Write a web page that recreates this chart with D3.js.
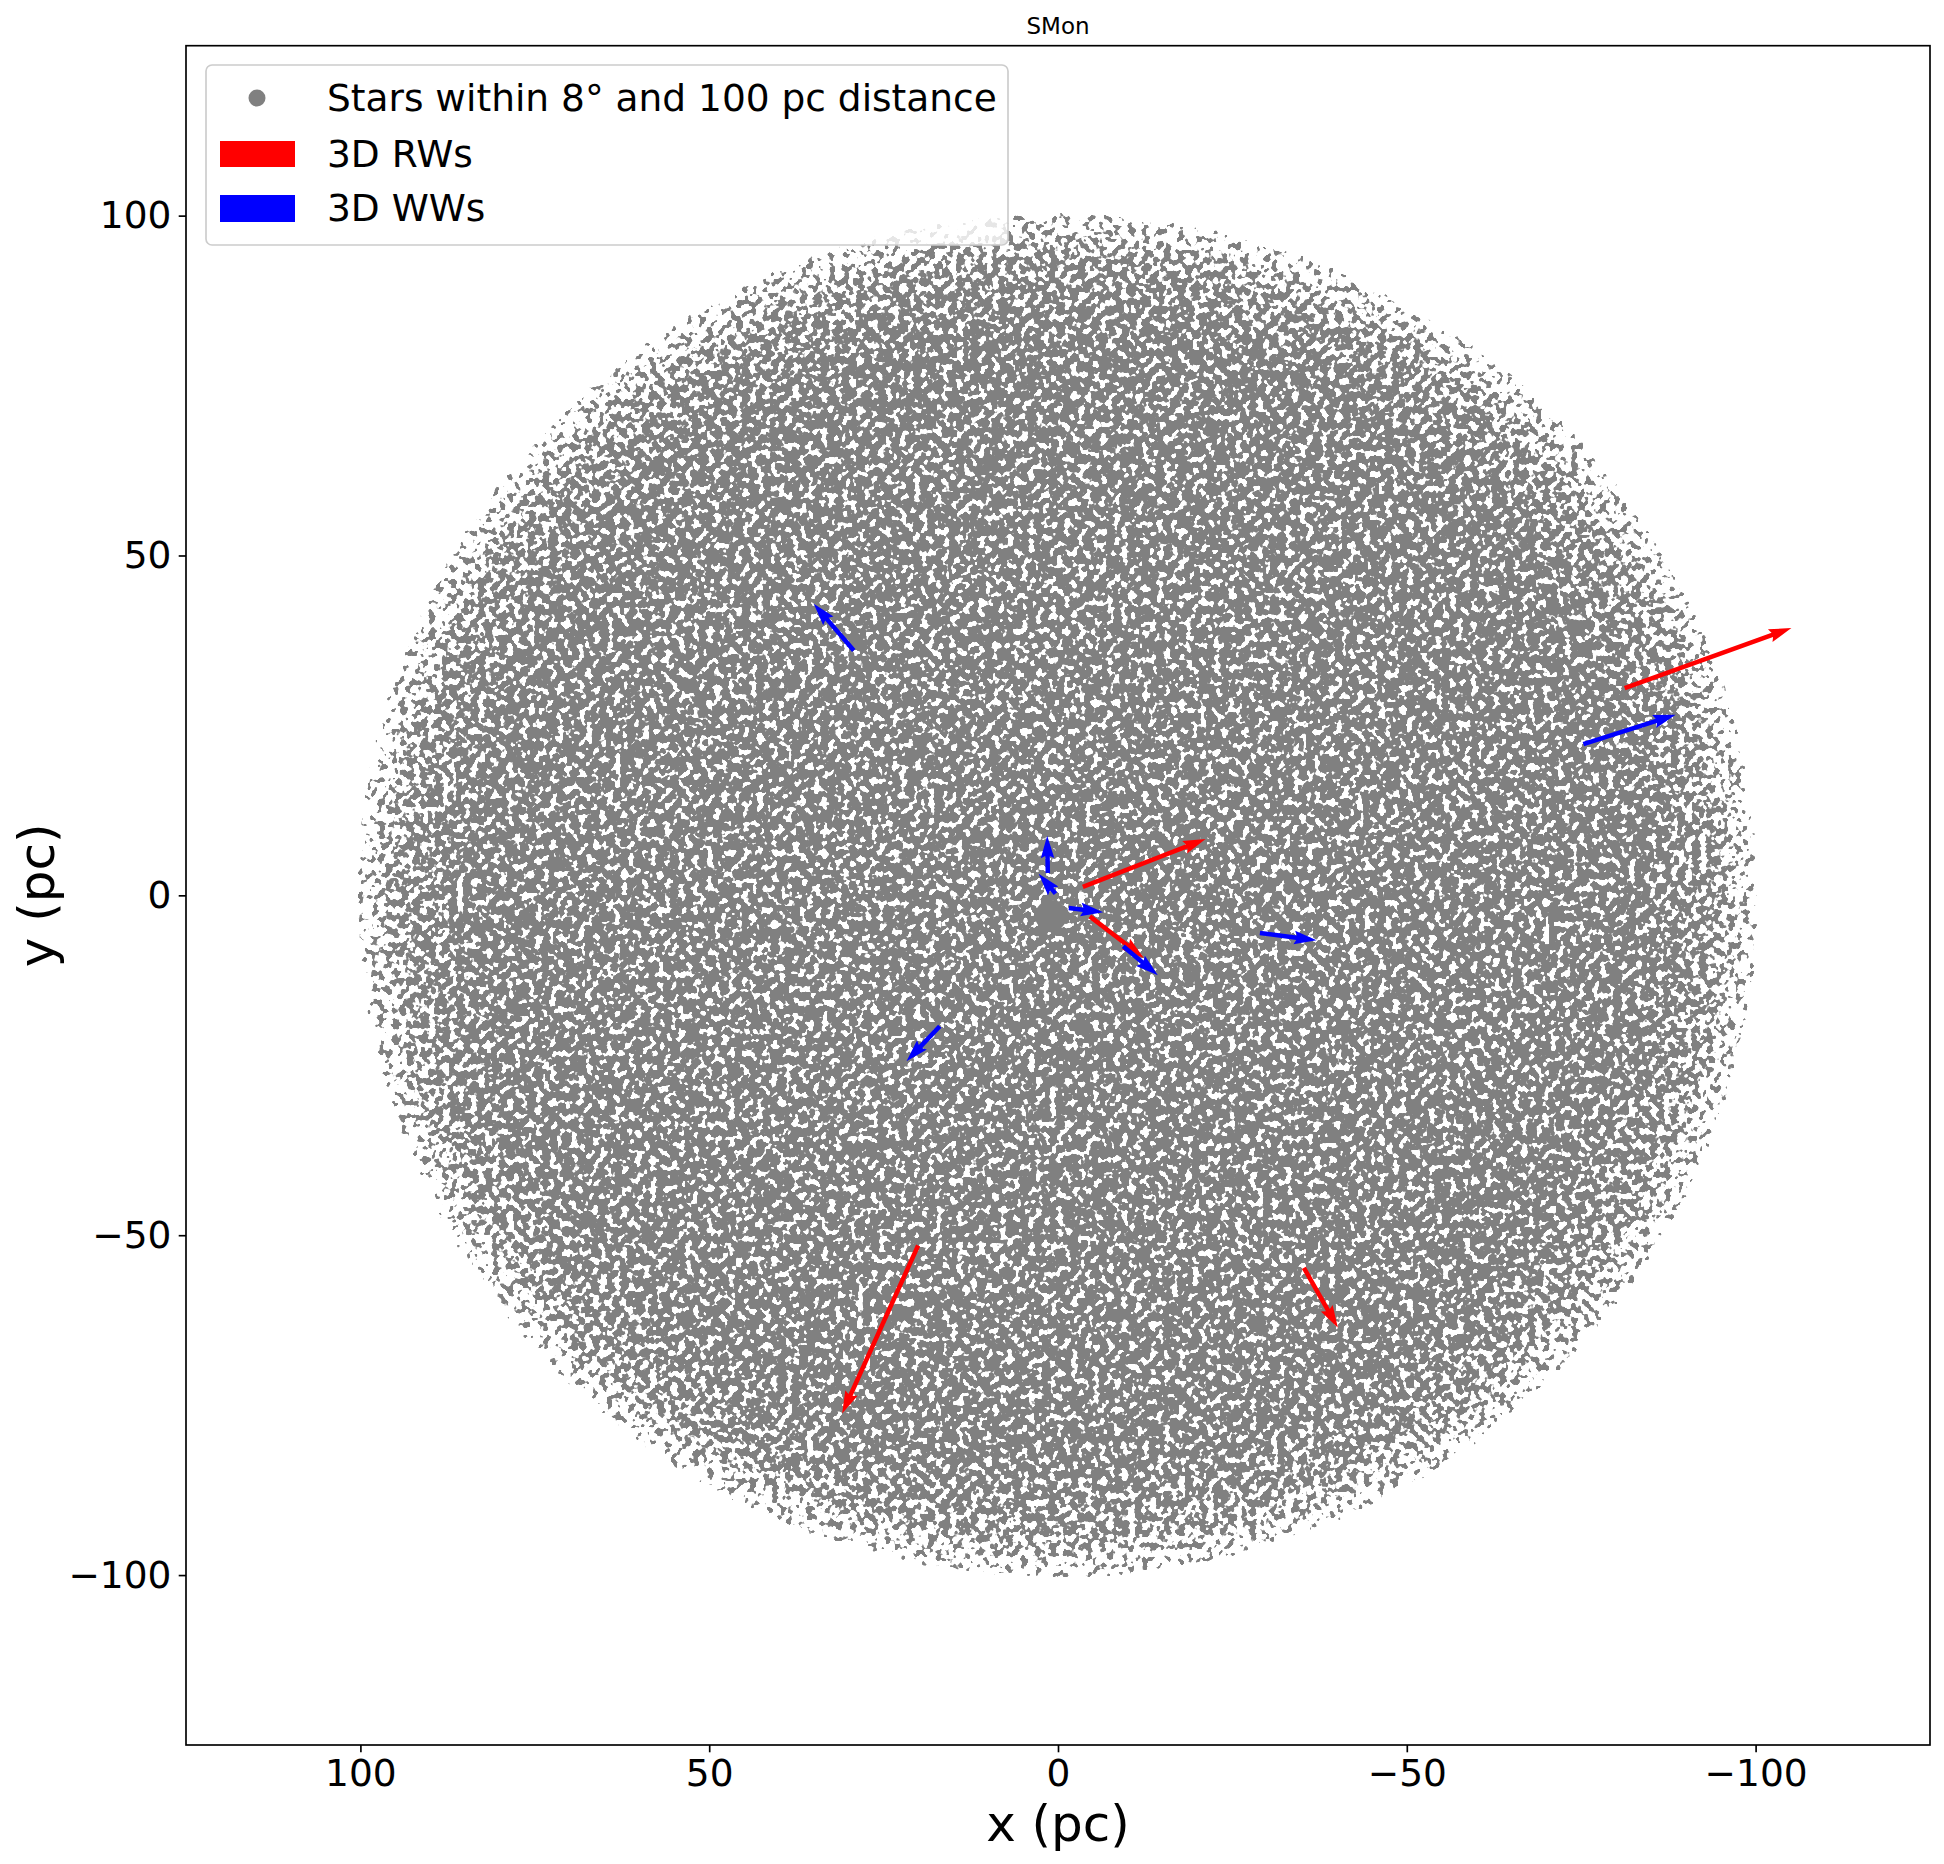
<!DOCTYPE html>
<html lang="en">
<head>
<meta charset="UTF-8" />
<title>SMon</title>
<script src="https://d3js.org/d3.v7.min.js"></script>
<style>
  body { margin: 0; background: #fff; }
  svg text { font-family: "DejaVu Sans", sans-serif; fill: #000; }
</style>
</head>
<body>
<svg id="chart" width="1944" height="1864"></svg>
<script>
// == DATA ==
const chartTitle = "SMon";
const xTicks = [100, 50, 0, -50, -100];
const yTicks = [100, 50, 0, -50, -100];
const xDomain = [125, -125];
const yDomain = [-125, 125];

// star sample: everything within 100 pc, plus the dense clump near the centre
const sampleRadius = 100;
const coreCenter = [1, -3];
const coreRadius = 2.3;

// 3D RWs (red): tail position and vector, in pc
const rwX  = [-3.56, -4.56, -81.23, 20.05, -35.24];
const rwY  = [1.24, -3.09, 30.50, -51.51, -54.79];
const rwDX = [-17.60, -7.74, -23.90, 10.89, -4.88];
const rwDY = [7.05, -6.11, 8.82, -24.71, -8.83];

// 3D WWs (blue)
const wwX  = [1.46, 0.36, -1.55, -9.35, -28.94, -75.31, 29.28, 16.95];
const wwY  = [3.29, 0.25, -1.85, -7.50, -5.53, 22.26, 36.03, -19.26];
const wwDX = [0.09, 2.41, -4.93, -4.96, -8.13, -13.23, 5.74, 4.77];
const wwDY = [5.49, 2.94, -0.65, -4.26, -1.09, 4.31, 6.87, -5.15];

const legendLabels = ["Stars within 8° and 100 pc distance", "3D RWs", "3D WWs"];

// == LAYOUT ==
const svg = d3.select("#chart");
const plotL = 186, plotR = 1930, plotT = 45.7, plotB = 1745;
const plotW = plotR - plotL, plotH = plotB - plotT;
const grey = "#808080";

const x = d3.scaleLinear().domain(xDomain).range([plotL, plotR]);
const y = d3.scaleLinear().domain(yDomain).range([plotB, plotT]);
const fmt = d => (d < 0 ? "\u2212" + Math.abs(d) : String(d));

const defs = svg.append("defs");

// star field: grey disc broken up by a speckle texture, thinning towards the rim
const cx = x(0), cy = y(0);
const rx = x(0) - x(sampleRadius), ry = y(-sampleRadius) - y(0);

const falloff = defs.append("radialGradient")
  .attr("id", "falloff")
  .attr("gradientUnits", "userSpaceOnUse")
  .attr("cx", cx).attr("cy", cy).attr("r", rx * 1.01)
  .attr("gradientTransform", `translate(${cx},${cy}) scale(1,${ry / rx}) translate(${-cx},${-cy})`);
[[0, "#fff"], [0.82, "#fff"], [0.93, "rgb(222,222,222)"], [0.99, "rgb(150,150,150)"], [1, "#000"]]
  .forEach(([o, c]) => falloff.append("stop").attr("offset", o).attr("stop-color", c));

const speckle = defs.append("filter")
  .attr("id", "speckle")
  .attr("filterUnits", "userSpaceOnUse")
  .attr("x", plotL).attr("y", plotT).attr("width", plotW).attr("height", plotH)
  .attr("color-interpolation-filters", "sRGB");
speckle.append("feTurbulence")
  .attr("type", "fractalNoise").attr("baseFrequency", 0.14).attr("numOctaves", 2).attr("seed", 9)
  .attr("result", "noise");
speckle.append("feColorMatrix")
  .attr("in", "noise").attr("type", "matrix")
  .attr("values", "1 0 0 0 0  1 0 0 0 0  1 0 0 0 0  0 0 0 0 1")
  .attr("result", "grey");
speckle.append("feComposite")
  .attr("in", "grey").attr("in2", "SourceGraphic").attr("operator", "arithmetic")
  .attr("k1", 0).attr("k2", 1).attr("k3", 0.5).attr("k4", -0.5)
  .attr("result", "mix");
const thresh = speckle.append("feComponentTransfer").attr("in", "mix");
["feFuncR", "feFuncG", "feFuncB"].forEach(f =>
  thresh.append(f).attr("type", "linear").attr("slope", 25).attr("intercept", 0.5 - 25 * 0.415));
thresh.append("feFuncA").attr("type", "linear").attr("slope", 0).attr("intercept", 1);

const mask = defs.append("mask")
  .attr("id", "starMask")
  .attr("maskUnits", "userSpaceOnUse")
  .attr("x", plotL).attr("y", plotT).attr("width", plotW).attr("height", plotH);
mask.append("rect")
  .attr("x", plotL).attr("y", plotT).attr("width", plotW).attr("height", plotH)
  .attr("fill", "url(#falloff)")
  .attr("filter", "url(#speckle)");
mask.append("ellipse")
  .attr("cx", x(coreCenter[0])).attr("cy", y(coreCenter[1]))
  .attr("rx", x(0) - x(coreRadius)).attr("ry", y(-coreRadius) - y(0))
  .attr("fill", "#fff");

// keep the texture inside the sampled sphere (plus one marker radius)
defs.append("clipPath").attr("id", "sampleClip")
  .append("ellipse")
  .attr("cx", cx).attr("cy", cy)
  .attr("rx", rx + 3).attr("ry", ry + 3);

svg.append("rect")
  .attr("x", plotL).attr("y", plotT).attr("width", plotW).attr("height", plotH)
  .attr("fill", grey)
  .attr("clip-path", "url(#sampleClip)")
  .attr("mask", "url(#starMask)");

// == ARROWS (quiver-like) ==
const shaftW = 4.5, headW = 3 * shaftW, headL = 5 * shaftW, headAxL = 4.5 * shaftW;

function arrowPath(x0, y0, dx, dy) {
  const px0 = x(x0), py0 = y(y0);
  const px1 = x(x0 + dx), py1 = y(y0 + dy);
  const L = Math.hypot(px1 - px0, py1 - py0);
  const k = Math.min(1, L / headL);
  const hw = headW * k, hl = headL * k, ha = headAxL * k, sw = shaftW * Math.max(k, 0.8);
  const pts = [
    [0, -sw / 2], [L - ha, -sw / 2], [L - hl, -hw / 2], [L, 0],
    [L - hl, hw / 2], [L - ha, sw / 2], [0, sw / 2]
  ];
  const a = Math.atan2(py1 - py0, px1 - px0), c = Math.cos(a), s = Math.sin(a);
  return "M" + pts.map(([u, v]) => [px0 + u * c - v * s, py0 + u * s + v * c].join(",")).join("L") + "Z";
}

const arrows = svg.append("g");
arrows.selectAll("path.rw")
  .data(d3.range(rwX.length))
  .join("path")
  .attr("class", "rw")
  .attr("d", i => arrowPath(rwX[i], rwY[i], rwDX[i], rwDY[i]))
  .attr("fill", "#ff0000");
arrows.selectAll("path.ww")
  .data(d3.range(wwX.length))
  .join("path")
  .attr("class", "ww")
  .attr("d", i => arrowPath(wwX[i], wwY[i], wwDX[i], wwDY[i]))
  .attr("fill", "#0000ff");

// == AXES ==
const tickLen = 7.3, tickPad = 7.3, tickFont = 37.5;

const xAxis = svg.append("g")
  .attr("transform", `translate(0,${plotB})`)
  .call(d3.axisBottom(x).tickValues(xTicks).tickFormat(fmt).tickSize(tickLen).tickPadding(tickPad));
const yAxis = svg.append("g")
  .attr("transform", `translate(${plotL},0)`)
  .call(d3.axisLeft(y).tickValues(yTicks).tickFormat(fmt).tickSize(tickLen).tickPadding(tickPad));

[xAxis, yAxis].forEach(g => {
  g.select(".domain").remove();
  g.selectAll(".tick line").attr("stroke", "#000").attr("stroke-width", 1.67);
  g.selectAll(".tick text").attr("font-size", tickFont).attr("font-family", "DejaVu Sans");
});

svg.append("rect")
  .attr("x", plotL).attr("y", plotT).attr("width", plotW).attr("height", plotH)
  .attr("fill", "none").attr("stroke", "#000").attr("stroke-width", 1.67);

svg.append("text")
  .attr("x", (plotL + plotR) / 2).attr("y", 34)
  .attr("text-anchor", "middle").attr("font-size", 23)
  .text(chartTitle);

svg.append("text")
  .attr("x", (plotL + plotR) / 2).attr("y", 1841)
  .attr("text-anchor", "middle").attr("font-size", 50)
  .text("x (pc)");

svg.append("text")
  .attr("transform", `translate(54,${(plotT + plotB) / 2}) rotate(-90)`)
  .attr("text-anchor", "middle").attr("font-size", 50)
  .text("y (pc)");

// == LEGEND ==
const legend = svg.append("g");
legend.append("rect")
  .attr("x", 206).attr("y", 65).attr("width", 802).attr("height", 180)
  .attr("rx", 6).attr("ry", 6)
  .attr("fill", "#fff").attr("fill-opacity", 0.8)
  .attr("stroke", "#cccccc").attr("stroke-width", 1.67);

const rowY = [98, 154, 208.5];
legend.append("circle").attr("cx", 257).attr("cy", rowY[0]).attr("r", 8.5).attr("fill", grey);
legend.append("rect").attr("x", 220).attr("y", rowY[1] - 13).attr("width", 75).attr("height", 26).attr("fill", "#ff0000");
legend.append("rect").attr("x", 220).attr("y", rowY[2] - 13.5).attr("width", 75).attr("height", 27).attr("fill", "#0000ff");

legend.selectAll("text.lab")
  .data(legendLabels)
  .join("text")
  .attr("class", "lab")
  .attr("x", 327)
  .attr("y", (d, i) => rowY[i] + 12.5)
  .attr("font-size", 37.5)
  .text(d => d);
</script>
</body>
</html>
